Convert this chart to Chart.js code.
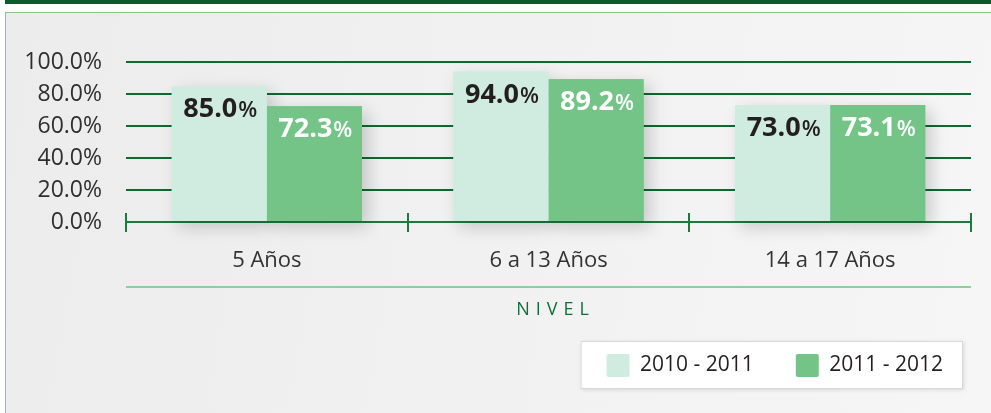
<!DOCTYPE html>
<html><head><meta charset="utf-8">
<style>
html,body{margin:0;padding:0;width:991px;height:413px;overflow:hidden;background:#fff;}
#topbar{position:absolute;left:5px;top:0;width:986px;height:4px;background:#0a5c2a;}
#panel{position:absolute;left:5px;top:12px;width:986px;height:401px;border-left:1px solid #7fcb90;border-top:1px solid #7fcb90;box-sizing:border-box;background:linear-gradient(100deg,#ececed 0%,#f1f1f1 50%,#f6f6f6 100%);}
#wrap{position:absolute;left:0;top:0;width:991px;height:413px;}
</style>
<script src="https://cdn.jsdelivr.net/npm/chart.js@4.4.1/dist/chart.umd.min.js"></script>
</head><body>
<div id="topbar"></div><div id="panel"></div>
<div id="wrap"><canvas id="c" width="991" height="413"></canvas></div>
<script>
const categories = ['5 Años', '6 a 13 Años', '14 a 17 Años'];
const seriesNames = ['2010 - 2011', '2011 - 2012'];
const values2010 = [85.0, 94.0, 73.0];
const values2011 = [72.3, 89.2, 73.1];
const yTickLabels = ['0.0%', '20.0%', '40.0%', '60.0%', '80.0%', '100.0%'];
const axisTitle = 'NIVEL';

const FONT = '"Open Sans", "Noto Sans", sans-serif';

const decor = {
  id: 'decor',
  afterLayout(chart) {
    const lg = chart.legend;
    if (lg) { lg.left += 14; lg.right += 14; }
  },
  beforeDraw(chart) {
    const hb = chart.legend && chart.legend.legendHitBoxes;
    if (!hb || !hb.length) return;
    const ctx = chart.ctx;
    const last = hb[hb.length - 1];
    const l = hb[0].left - 26, t = hb[0].top - 13;
    const r = last.left + last.width + 20, b = last.top + last.height + 12;
    ctx.save();
    ctx.shadowColor = 'rgba(0,0,0,0.12)'; ctx.shadowBlur = 4; ctx.shadowOffsetX = 1; ctx.shadowOffsetY = 1;
    ctx.fillStyle = '#ffffff'; ctx.fillRect(l, t, r - l, b - t);
    ctx.shadowColor = 'transparent';
    ctx.strokeStyle = '#d8d8d8'; ctx.lineWidth = 1; ctx.strokeRect(l + 0.5, t + 0.5, r - l - 1, b - t - 1);
    ctx.restore();
  },
  beforeDatasetsDraw(chart) {
    const ctx = chart.ctx;
    ctx.save();
    ctx.shadowColor = 'rgba(0,0,0,0.18)'; ctx.shadowBlur = 16; ctx.shadowOffsetX = 6; ctx.shadowOffsetY = 6;
    chart.data.datasets.forEach((ds, di) => {
      chart.getDatasetMeta(di).data.forEach(bar => {
        ctx.fillStyle = ds.backgroundColor;
        ctx.fillRect(bar.x - bar.width / 2, bar.y, bar.width, bar.base - bar.y);
      });
    });
    ctx.restore();
  },
  afterDatasetsDraw(chart) {
    const ctx = chart.ctx;
    chart.data.datasets.forEach((ds, di) => {
      chart.getDatasetMeta(di).data.forEach((bar, i) => {
        const num = ds.data[i].toFixed(1);
        ctx.save();
        ctx.fillStyle = di === 0 ? '#231f20' : '#ffffff';
        ctx.textBaseline = 'alphabetic'; ctx.textAlign = 'left';
        const f1 = 'bold 27px ' + FONT, f2 = '600 22px ' + FONT;
        ctx.font = f1; const w1 = ctx.measureText(num).width;
        ctx.font = f2; const w2 = ctx.measureText('%').width;
        const x0 = bar.x - (w1 + w2 + 1) / 2 + 1;
        const y0 = bar.y + 31;
        ctx.font = f1; ctx.fillText(num, x0, y0);
        ctx.font = f2; ctx.fillText('%', x0 + w1 + 1, y0);
        ctx.restore();
      });
    });
  },
  afterDraw(chart) {
    const ctx = chart.ctx, x = chart.scales.x, y = chart.scales.y;
    ctx.save();
    ctx.strokeStyle = '#1d7a3c'; ctx.lineWidth = 2;
    const bounds = [x.left];
    for (let i = 0; i < categories.length - 1; i++) bounds.push((x.getPixelForValue(i) + x.getPixelForValue(i + 1)) / 2);
    bounds.push(x.right);
    const ay = y.getPixelForValue(0);
    bounds.forEach(bx => {
      ctx.beginPath(); ctx.moveTo(Math.round(bx), ay - 9); ctx.lineTo(Math.round(bx), ay + 10); ctx.stroke();
    });
    ctx.strokeStyle = '#8dd0a0'; ctx.lineWidth = 2;
    ctx.beginPath(); ctx.moveTo(x.left, x.top + 65); ctx.lineTo(x.right, x.top + 65); ctx.stroke();
    ctx.fillStyle = '#11703a';
    ctx.font = '18px ' + FONT;
    ctx.letterSpacing = '6px';
    ctx.textBaseline = 'middle'; ctx.textAlign = 'left';
    const tw = ctx.measureText(axisTitle).width - 6;
    ctx.fillText(axisTitle, (x.left + x.right) / 2 - tw / 2 + 4, x.top + 88);
    ctx.restore();
  }
};

new Chart(document.getElementById('c'), {
  type: 'bar',
  data: {
    labels: categories,
    datasets: [
      { label: seriesNames[0], data: values2010, backgroundColor: '#d0ebe0', borderWidth: 0, categoryPercentage: 0.675, barPercentage: 1.0 },
      { label: seriesNames[1], data: values2011, backgroundColor: '#74c487', borderWidth: 0, categoryPercentage: 0.675, barPercentage: 1.0 }
    ]
  },
  options: {
    responsive: false,
    animation: false,
    devicePixelRatio: 1,
    layout: { padding: { top: 62, right: 20, bottom: 26, left: 0 } },
    plugins: {
      tooltip: { enabled: false },
      legend: {
        position: 'bottom',
        align: 'end',
        labels: {
          font: { family: FONT, size: 21 },
          color: '#231f20',
          boxWidth: 23, boxHeight: 23,
          padding: 42,
          useBorderRadius: true, borderRadius: 2
        }
      }
    },
    scales: {
      x: {
        grid: { display: false, drawTicks: false },
        border: { display: true, color: '#1d7a3c', width: 2 },
        ticks: { font: { family: FONT, size: 22 }, color: '#333333', padding: 26, maxRotation: 0 },
        afterFit(scale) { scale.height = 90; }
      },
      y: {
        min: 0, max: 100,
        grid: { color: '#0c6b2f', lineWidth: 2, drawTicks: false },
        border: { display: false },
        ticks: { stepSize: 20, padding: 24, font: { family: FONT, size: 23 }, color: '#2f2f2f',
                 callback: (v, i) => yTickLabels[i] },
        afterFit(scale) { scale.width = 126; }
      }
    }
  },
  plugins: [decor]
});
</script>
</body></html>
